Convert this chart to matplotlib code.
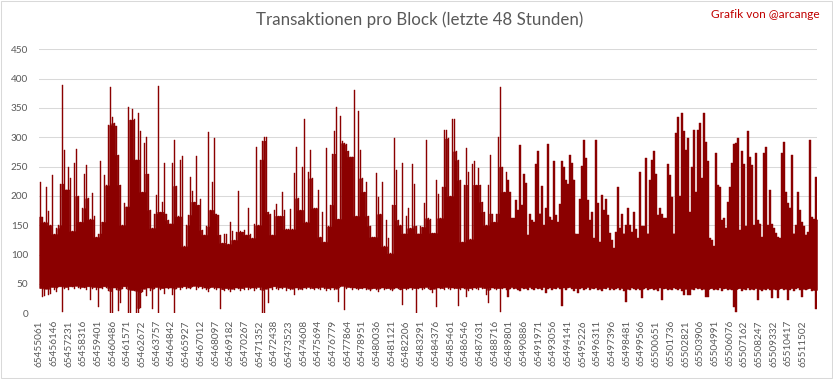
import numpy as np
import matplotlib
matplotlib.use("Agg")
import matplotlib.pyplot as plt
from matplotlib.patches import Rectangle

# ---------------- data ----------------
title = "Transaktionen pro Block (letzte 48 Stunden)"
credit = "Grafik von @arcange"

# block numbers shown on the category axis (every 1085th block)
block_labels = [65455061, 65456146, 65457231, 65458316, 65459401, 65460486, 65461571,
                65462672, 65463757, 65464842, 65465927, 65467012, 65468097, 65469182,
                65470267, 65471352, 65472438, 65473523, 65474608, 65475694, 65476779,
                65477864, 65478951, 65480036, 65481121, 65482206, 65483291, 65484376,
                65485461, 65486546, 65487631, 65488716, 65489801, 65490886, 65491971,
                65493056, 65494141, 65495226, 65496311, 65497396, 65498481, 65499566,
                65500651, 65501736, 65502821, 65503906, 65504991, 65506076, 65507162,
                65508247, 65509332, 65510417, 65511502]
label_every = 1085
n_blocks = 57454

# per slice of blocks: highest and lowest transaction count seen
hi_values = [
    223, 165, 155, 215, 175, 150, 236, 135, 145, 150, 221, 389, 278, 211, 249, 230, 140, 257, 280, 200,
    156, 179, 238, 252, 196, 160, 205, 166, 130, 136, 260, 156, 236, 218, 321, 385, 335, 324, 320, 270,
    219, 150, 188, 182, 352, 330, 348, 331, 262, 341, 311, 207, 291, 300, 238, 176, 145, 170, 202, 387,
    173, 190, 256, 170, 159,
    153, 256, 295, 217, 165, 262, 268, 114, 150, 168, 233, 209, 190, 268, 185, 194, 142, 134, 148, 309,
    176, 224, 298, 170, 168, 134, 120, 136, 136, 118, 156, 140, 125, 139, 209, 141, 139, 142, 134, 179,
    136, 128, 152, 283, 150, 262, 294, 301, 300, 173, 169, 134, 176, 186, 166, 166, 206, 176, 143, 143,
    177, 143, 240, 284, 196,
    176, 250, 331, 155, 240, 278, 230, 179, 179, 211, 130, 173, 122, 281, 148, 185, 272, 311, 352, 161,
    337, 293, 290, 288, 277, 267, 267, 381, 166, 345, 278, 230, 207, 224, 166, 149, 130, 130, 240, 199,
    169, 224, 114, 159, 128, 102, 185, 298, 244, 159, 150, 257, 136, 166, 179, 145, 254, 220, 149, 136,
    149, 147, 188, 295, 162,
    160, 137, 137, 228, 203, 162, 216, 312, 312, 298, 200, 331, 331, 276, 261, 227, 122, 219, 281, 241,
    126, 255, 260, 219, 247, 219, 190, 173, 150, 219, 269, 170, 156, 170, 300, 386, 250, 207, 241, 228,
    207, 162, 162, 193, 176, 287, 185, 238, 222, 134, 170, 159, 156, 255, 276, 170, 217, 150, 179, 288,
    165, 159, 260, 168, 156,
    186, 259, 250, 227, 220, 270, 257, 228, 136, 135, 194, 251, 295, 264, 193, 159, 173, 128, 295, 188,
    122, 202, 176, 194, 168, 137, 125, 111, 139, 216, 145, 170, 136, 150, 179, 150, 139, 172, 143, 128,
    241, 148, 148, 264, 136, 227, 261, 276, 238, 168, 179, 169, 162, 162, 254, 236, 199, 136, 307, 334,
    200, 341, 311, 278, 298,
    173, 249, 313, 207, 313, 325, 230, 341, 292, 260, 128, 125, 114, 273, 219, 216, 159, 162, 145, 190,
    216, 257, 289, 290, 298, 142, 276, 254, 148, 311, 266, 253, 150, 274, 159, 153, 130, 273, 283, 150,
    211, 153, 145, 137, 130, 128, 273, 292, 206, 188, 180, 270, 136, 150, 206, 176, 156, 148, 134, 139,
    295, 165, 160, 233,
]

lo_values = [
    43, 28, 30, 42, 31, 33, 45, 40, 37, 44, 46, 3, 42, 45, 40, 46, 44, 42, 47, 43,
    41, 45, 43, 40, 46, 23, 42, 45, 40, 11, 44, 42, 46, 43, 38, 1, 1, 44, 40, 4,
    17, 42, 46, 41, 1, 1, 40, 38, 1, 1, 9, 36, 42, 30, 44, 38, 8, 42, 45, 1,
    40, 43, 33, 44, 41,
    44, 31, 1, 42, 45, 40, 43, 46, 41, 44, 42, 45, 47, 40, 43, 46, 41, 44, 40, 37,
    43, 45, 42, 40, 44, 7, 41, 38, 43, 40, 36, 42, 39, 44, 41, 38, 43, 40, 45, 39,
    42, 44, 38, 41, 45, 40, 1, 1, 42, 17, 44, 40, 46, 42, 39, 44, 41, 45, 38, 43,
    40, 42, 31, 44, 40,
    42, 40, 44, 41, 45, 42, 43, 39, 44, 41, 40, 45, 42, 38, 43, 40, 44, 39, 42, 20,
    44, 47, 5, 42, 45, 43, 40, 44, 42, 39, 43, 41, 44, 40, 42, 38, 41, 43, 40, 37,
    42, 44, 39, 41, 43, 40, 38, 42, 44, 41, 39, 15, 43, 40, 42, 44, 39, 43, 1, 41,
    44, 40, 42, 45, 41,
    40, 34, 42, 11, 44, 41, 43, 40, 45, 42, 39, 44, 41, 43, 13, 40, 44, 42, 28, 38,
    43, 40, 44, 42, 39, 45, 41, 43, 31, 17, 40, 44, 42, 39, 43, 3, 41, 44, 40, 28,
    42, 45, 41, 43, 40, 38, 44, 41, 43, 40, 45, 42, 39, 44, 41, 43, 40, 45, 34, 42,
    44, 40, 43, 41, 45,
    42, 13, 44, 40, 43, 45, 41, 38, 43, 34, 41, 44, 40, 42, 45, 39, 43, 41, 44, 40,
    42, 38, 43, 41, 45, 40, 43, 39, 42, 44, 40, 43, 38, 20, 42, 40, 44, 41, 39, 43,
    40, 26, 42, 44, 39, 41, 43, 40, 42, 38, 44, 23, 41, 43, 40, 42, 39, 44, 41, 40,
    43, 38, 31, 42, 31,
    31, 42, 40, 44, 41, 43, 39, 42, 28, 28, 41, 43, 39, 42, 40, 44, 38, 41, 43, 40,
    42, 39, 11, 3, 41, 43, 38, 42, 40, 44, 39, 42, 40, 43, 22, 41, 38, 42, 40, 43,
    39, 26, 42, 40, 26, 41, 43, 39, 42, 22, 40, 43, 38, 41, 44, 40, 28, 42, 39, 41,
    43, 38, 40, 7,
]

y_ticks = [0, 50, 100, 150, 200, 250, 300, 350, 400, 450]

# ---------------- figure ----------------
W, H = 833, 379
RED = "#8B0000"
fig = plt.figure(figsize=(W / 100, H / 100), dpi=100)
fig.patch.set_facecolor("white")
FONT = ["Lato", "DejaVu Sans"]

left, right = 39.3 / W, 817.0 / W
bottom, top = (H - 313.3) / H, (H - 49.3) / H
ax = fig.add_axes([left, bottom, right - left, top - bottom])

hi = np.asarray(hi_values, float)
lo = np.asarray(lo_values, float)
n = len(hi)
slice_w = n_blocks / n
centers = (np.arange(n) + 0.5) * slice_w

# dense part where the line overlaps itself: shared extent of neighbouring slices
hi_pad = np.concatenate([[hi[0]], hi, [hi[-1]]])
lo_pad = np.concatenate([[lo[0]], lo, [lo[-1]]])
core_top = np.minimum(np.minimum(hi_pad[:-2], hi_pad[1:-1]), hi_pad[2:])
core_bot = np.maximum(np.maximum(lo_pad[:-2], lo_pad[1:-1]), lo_pad[2:])
edges = np.arange(n + 1) * slice_w
ax.fill_between(edges, np.append(core_bot, core_bot[-1]), np.append(core_top, core_top[-1]),
                step="post", color=RED, linewidth=0.4, edgecolor=RED, zorder=3)

# thin spikes: full extent of each slice
ax.bar(centers, hi - lo, bottom=lo, width=slice_w * 0.62, color=RED,
       edgecolor=RED, linewidth=0.3, zorder=3)

ax.set_xlim(0, n_blocks)
ax.set_ylim(0, 450)
ax.set_yticks(y_ticks)
ax.set_yticklabels([str(v) for v in y_ticks])
ax.set_xticks([i * label_every for i in range(len(block_labels))])
ax.set_xticklabels([str(b) for b in block_labels], rotation=90)

ax.yaxis.grid(True, color="#d9d9d9", lw=0.75)
ax.set_axisbelow(True)
for s in ax.spines.values():
    s.set_visible(False)
ax.tick_params(axis="both", length=0, colors="#595959", labelsize=7.2)
ax.tick_params(axis="x", pad=5)
ax.tick_params(axis="y", pad=8)
for lab in ax.get_xticklabels() + ax.get_yticklabels():
    lab.set_fontfamily(FONT)

fig.text(0.504, (H - 20) / H, title, ha="center", va="center",
         fontsize=12.2, color="#595959", family=FONT)
fig.text(820 / W, (H - 15) / H, credit, ha="right", va="center",
         fontsize=8.6, color="#C00000", family=FONT)

fig.patches.append(Rectangle((0.5 / W, 1.0 / H), (W - 1.5) / W, (H - 2.0) / H,
                             transform=fig.transFigure, fill=False,
                             ec="#d9d9d9", lw=0.75))

fig.savefig("out.png", dpi=100, facecolor="white")
